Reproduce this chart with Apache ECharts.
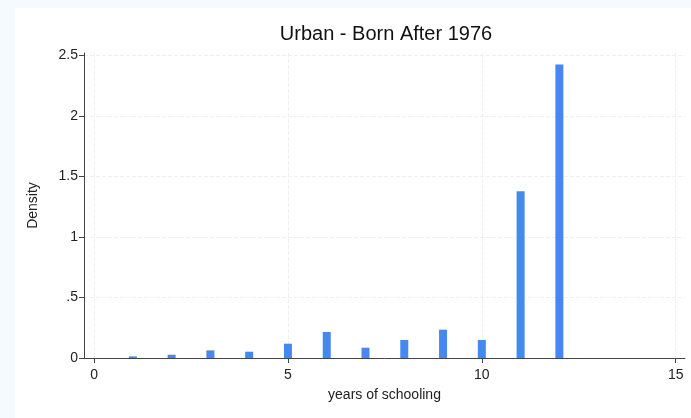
<!DOCTYPE html>
<html>
<head>
<meta charset="utf-8">
<script src="https://cdn.jsdelivr.net/npm/echarts@6/dist/echarts.min.js"></script>
<style>
html,body{margin:0;padding:0;background:#f4fafd;}
#c{width:691px;height:418px;}
</style>
</head>
<body>
<div id="c"></div>
<script>
const titleText = "Urban - Born After 1976";
const xTitle = "years of schooling";
const yTitle = "Density";
const years = [1, 2, 3, 4, 5, 6, 7, 8, 9, 10, 11, 12];
const density = [0.013, 0.027, 0.063, 0.052, 0.118, 0.215, 0.085, 0.149, 0.234, 0.149, 1.377, 2.424];
const xTicks = [0, 5, 10, 15];
const yTicks = [0, 0.5, 1, 1.5, 2, 2.5];

const chart = echarts.init(document.getElementById('c'), null, {renderer: 'canvas'});
const font = "'Liberation Sans', Arial, Helvetica, sans-serif";
function fmtY(v) {
  if (v === 0) return '0';
  let s = String(v);
  if (s.startsWith('0.')) s = s.slice(1);
  return s;
}
chart.setOption({
  backgroundColor: 'transparent',
  animation: false,
  graphic: [{
    type: 'rect', z: -10, silent: true,
    shape: {x: 15, y: 8, width: 691 - 15, height: 418 - 8},
    style: {fill: '#ffffff'}
  }],
  title: {
    text: titleText, left: 381, top: 19, textAlign: 'center',
    textStyle: {fontFamily: font, fontSize: 20, fontWeight: 'normal', color: '#111'}
  },
  grid: {left: 84, right: 6, top: 53, bottom: 60, containLabel: false},
  xAxis: {
    type: 'value', min: -0.26, max: 15.24,
    name: xTitle, nameLocation: 'middle', nameGap: 30,
    nameTextStyle: {fontFamily: font, fontSize: 14, color: '#222'},
    axisLine: {show: true, onZero: false, lineStyle: {color: '#444', width: 1}},
    axisTick: {show: true, length: 5, lineStyle: {color: '#444'}, customValues: xTicks},
    axisLabel: {fontFamily: font, fontSize: 14, color: '#222', margin: 10, customValues: xTicks},
    splitLine: {show: true, lineStyle: {color: '#efefef', type: 'dashed', width: 1}},
    interval: 5
  },
  yAxis: {
    type: 'value', min: 0, max: 2.52,
    name: yTitle, nameLocation: 'middle', nameGap: 44, nameRotate: 90,
    nameTextStyle: {fontFamily: font, fontSize: 14, color: '#222'},
    axisLine: {show: true, onZero: false, lineStyle: {color: '#444', width: 1}},
    axisTick: {show: true, length: 5, lineStyle: {color: '#444'}, customValues: yTicks},
    axisLabel: {fontFamily: font, fontSize: 14, color: '#222', margin: 6, formatter: fmtY, customValues: yTicks},
    splitLine: {show: true, lineStyle: {color: '#efefef', type: 'dashed', width: 1}},
    interval: 0.5
  },
  series: [{
    type: 'bar',
    data: years.map((x, i) => [x, density[i]]),
    barWidth: 8,
    itemStyle: {color: '#4588ef'},
    silent: true
  }]
});
</script>
</body>
</html>
